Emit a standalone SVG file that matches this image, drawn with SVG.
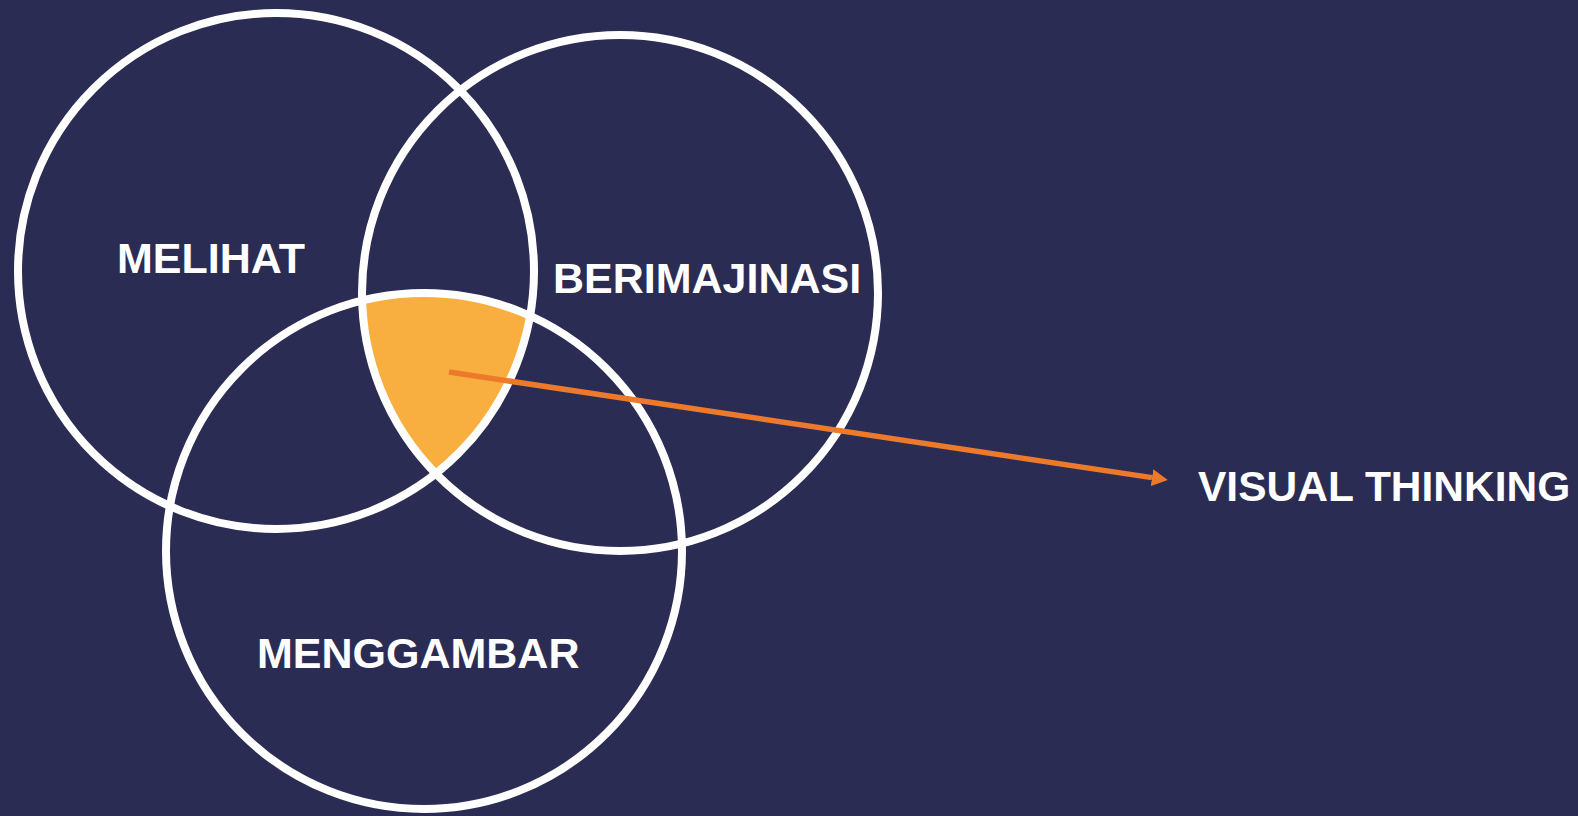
<svg xmlns="http://www.w3.org/2000/svg" width="1578" height="816" viewBox="0 0 1578 816">
<style>
.ring{fill:none;stroke:#ffffff;stroke-width:8}
.lbl{font-family:"Liberation Sans",Arial,sans-serif;font-weight:bold;font-size:43px;fill:#ffffff}
.conn{stroke:#EC7A2A;stroke-width:5.5;fill:none}
</style>
<defs>
<marker id="arrow" markerUnits="userSpaceOnUse" markerWidth="18" markerHeight="18" refX="0" refY="8.5" orient="auto">
<path d="M0,0 L16,8.5 L0,17 Z" fill="#EC7A2A"/>
</marker>
</defs>
<rect width="1578" height="816" fill="#2B2C53"/>
<g id="intersection">
<path d="M362.1,300.5 A258,258 0 0 1 530.1,315.8 A258,258 0 0 1 435.7,473.6 A258,258 0 0 1 362.1,300.5 Z" fill="#F9AE40"/>
</g>
<g id="melihat">
<circle class="ring" cx="276" cy="271" r="258"/>
<text class="lbl" x="117" y="273">MELIHAT</text>
</g>
<g id="berimajinasi">
<circle class="ring" cx="620" cy="293" r="258"/>
<text class="lbl" x="553" y="293">BERIMAJINASI</text>
</g>
<g id="menggambar">
<circle class="ring" cx="424" cy="551" r="258"/>
<text class="lbl" x="257" y="668">MENGGAMBAR</text>
</g>
<g id="visual-thinking">
<text class="lbl" x="1198" y="501" style="font-size:42.5px">VISUAL THINKING</text>
</g>
<g id="connectors">
<line class="conn" x1="449" y1="372" x2="1152" y2="477.6" marker-end="url(#arrow)"/>
</g>
</svg>
